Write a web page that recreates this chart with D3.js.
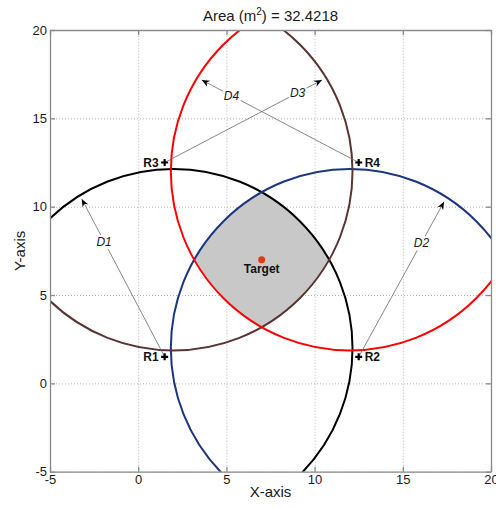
<html>
<head>
<meta charset="utf-8">
<script src="https://d3js.org/d3.v7.min.js"></script>
</head>
<body style="margin:0">

<div id="chart"></div>

<style>
  text { font-family: "Liberation Sans", Arial, sans-serif; }
  .grid line { stroke: #b4b4b4; stroke-dasharray: 1,2; }
  .grid path { display: none; }
  .frame path, .frame line { stroke: #8a8a8a; stroke-width: 1.3; }
  .frame text { fill: #1a1a1a; font-size: 13px; }
</style>

<script>
// axis ticks (both axes)
var ticks = [-5, 0, 5, 10, 15, 20];

// receivers
var sensorNames = ["R1", "R2", "R3", "R4"];
var sensorX = [1.5, 12.5, 1.5, 12.5];
var sensorY = [1.5, 1.5, 12.5, 12.5];
var sensorSide = ["left", "right", "left", "right"];

// range circles (drawn as arcs, angles in degrees, counter-clockwise from +x)
var circleX = [2, 12, 2, 12];
var circleY = [2, 2, 12, 12];
var circleR = [10.15, 10.15, 10.15, 10.15];
var arcFrom = [-90, 0, 180, 90];
var arcTo = [180, 270, 450, 360];
var circleColors = ["#000000", "#1b3580", "#5a3434", "#ff0000"];

// distance arrows (start at a receiver, end on its circle)
var arrowNames = ["D1", "D2", "D3", "D4"];
var arrowFrom = [0, 1, 2, 3];
var arrowTipX = [-3.2, 17.34, 10.42, 3.6];
var arrowTipY = [10.44, 10.28, 17.17, 17.17];
var arrowLabelAt = [0.73, 0.735, 0.845, 0.81];

var targetX = 7, targetY = 7;
var area = "32.4218";

var margin = {top: 30, left: 50},
    width = 441,
    height = 441.7;

var svg = d3.select("#chart")
    .append("svg")
    .attr("width", 496)
    .attr("height", 508);

var defs = svg.append("defs");

var g = svg.append("g")
    .attr("transform", "translate(" + margin.left + "," + margin.top + ")");

var x = d3.scaleLinear().domain([-5, 20]).range([0, width]);
var y = d3.scaleLinear().domain([-5, 20]).range([height, 0]);

// grid
g.append("g")
    .attr("class", "grid")
    .attr("transform", "translate(0," + height + ")")
    .call(d3.axisBottom(x).tickValues(ticks).tickSize(-height).tickFormat(""));
g.append("g")
    .attr("class", "grid")
    .call(d3.axisLeft(y).tickValues(ticks).tickSize(-width).tickFormat(""));

// clip paths
defs.append("clipPath").attr("id", "plotClip")
    .append("rect").attr("width", width).attr("height", height);

circleX.forEach(function(cx, i) {
    defs.append("clipPath").attr("id", "circ" + i)
        .append("circle")
        .attr("cx", x(cx))
        .attr("cy", y(circleY[i]))
        .attr("r", x(circleR[i]) - x(0));
});

// shaded area = intersection of all four circles
var region = g;
circleX.forEach(function(cx, i) {
    region = region.append("g").attr("clip-path", "url(#circ" + i + ")");
});
region.append("rect")
    .attr("width", width)
    .attr("height", height)
    .attr("fill", "#c8c8c8");

// circle arcs
function arcPath(i) {
    var p = d3.path();
    var rad = Math.PI / 180;
    var cx = x(circleX[i]), cy = y(circleY[i]), r = x(circleR[i]) - x(0);
    var a0 = -arcFrom[i] * rad, a1 = -arcTo[i] * rad;
    p.moveTo(cx + r * Math.cos(a0), cy + r * Math.sin(a0));
    p.arc(cx, cy, r, a0, a1, true);
    return p.toString();
}

g.append("g")
    .attr("clip-path", "url(#plotClip)")
    .selectAll("path")
    .data(d3.range(circleX.length))
    .enter()
    .append("path")
    .attr("d", arcPath)
    .attr("fill", "none")
    .attr("stroke", function(i) { return circleColors[i]; })
    .attr("stroke-width", 2);

// arrows
defs.append("marker")
    .attr("id", "head")
    .attr("markerUnits", "userSpaceOnUse")
    .attr("viewBox", "-9 -5 10 10")
    .attr("refX", 0)
    .attr("refY", 0)
    .attr("markerWidth", 10)
    .attr("markerHeight", 10)
    .attr("orient", "auto")
    .append("path")
    .attr("d", "M0,0 L-8,-3.3 L-5.5,0 L-8,3.3 Z")
    .attr("fill", "#000");

var arrows = g.append("g");
arrowNames.forEach(function(name, i) {
    var s = arrowFrom[i];
    arrows.append("line")
        .attr("x1", x(sensorX[s])).attr("y1", y(sensorY[s]))
        .attr("x2", x(arrowTipX[i])).attr("y2", y(arrowTipY[i]))
        .attr("stroke", "#6a6a6a")
        .attr("stroke-width", 0.8)
        .attr("marker-end", "url(#head)");
});
arrowNames.forEach(function(name, i) {
    var s = arrowFrom[i], t = arrowLabelAt[i];
    var lx = x(sensorX[s]) + t * (x(arrowTipX[i]) - x(sensorX[s]));
    var ly = y(sensorY[s]) + t * (y(arrowTipY[i]) - y(sensorY[s]));
    var bg = arrows.append("rect").attr("fill", "#fff");
    var txt = arrows.append("text")
        .attr("x", lx)
        .attr("y", ly + 4.5)
        .attr("text-anchor", "middle")
        .style("font-size", "12px")
        .style("font-style", "italic")
        .style("fill", "#1a1a1a")
        .text(name);
    var b = txt.node().getBBox();
    bg.attr("x", b.x - 1).attr("y", b.y).attr("width", b.width + 2).attr("height", b.height);
});

// receivers
var sensors = g.append("g");
sensorNames.forEach(function(name, i) {
    var cx = x(sensorX[i]), cy = y(sensorY[i]);
    sensors.append("path")
        .attr("d", "M" + (cx - 3.5) + "," + cy + "H" + (cx + 3.5) + "M" + cx + "," + (cy - 3.5) + "V" + (cy + 3.5))
        .attr("stroke", "#000")
        .attr("stroke-width", 2.2);
    sensors.append("text")
        .attr("x", sensorSide[i] == "left" ? cx - 6 : cx + 6)
        .attr("y", cy + 4.5)
        .attr("text-anchor", sensorSide[i] == "left" ? "end" : "start")
        .style("font-size", "12px")
        .style("font-weight", "bold")
        .style("fill", "#111")
        .text(name);
});

// target
g.append("circle")
    .attr("cx", x(targetX))
    .attr("cy", y(targetY))
    .attr("r", 3.5)
    .attr("fill", "#e03c14");
g.append("text")
    .attr("x", x(targetX))
    .attr("y", y(targetY) + 13.5)
    .attr("text-anchor", "middle")
    .style("font-size", "12px")
    .style("font-weight", "bold")
    .style("fill", "#111")
    .text("Target");

// axes frame with inside ticks
var fmt = function(d) { return String(d); };
g.append("g").attr("class", "frame")
    .attr("transform", "translate(0," + height + ")")
    .call(d3.axisBottom(x).tickValues(ticks).tickSize(-5).tickSizeOuter(0).tickFormat(fmt));
g.append("g").attr("class", "frame")
    .call(d3.axisTop(x).tickValues(ticks).tickSize(-5).tickSizeOuter(0).tickFormat(""));
g.append("g").attr("class", "frame")
    .call(d3.axisLeft(y).tickValues(ticks).tickSize(-5).tickSizeOuter(0).tickFormat(fmt));
g.append("g").attr("class", "frame")
    .attr("transform", "translate(" + width + ",0)")
    .call(d3.axisRight(y).tickValues(ticks).tickSize(-5).tickSizeOuter(0).tickFormat(""));

// axis labels
svg.append("text")
    .attr("x", margin.left + width / 2)
    .attr("y", 497)
    .attr("text-anchor", "middle")
    .style("font-size", "15px")
    .style("fill", "#1a1a1a")
    .text("X-axis");

svg.append("text")
    .attr("transform", "translate(25," + (margin.top + height / 2) + ") rotate(-90)")
    .attr("text-anchor", "middle")
    .style("font-size", "15px")
    .style("fill", "#1a1a1a")
    .text("Y-axis");

// title
var title = svg.append("text")
    .attr("x", margin.left + width / 2)
    .attr("y", 21)
    .attr("text-anchor", "middle")
    .style("font-size", "15px")
    .style("fill", "#1a1a1a");
title.append("tspan").text("Area (m");
title.append("tspan").attr("dy", -6).style("font-size", "10px").text("2");
title.append("tspan").attr("dy", 6).text(") = " + area);
</script>

</body>
</html>
